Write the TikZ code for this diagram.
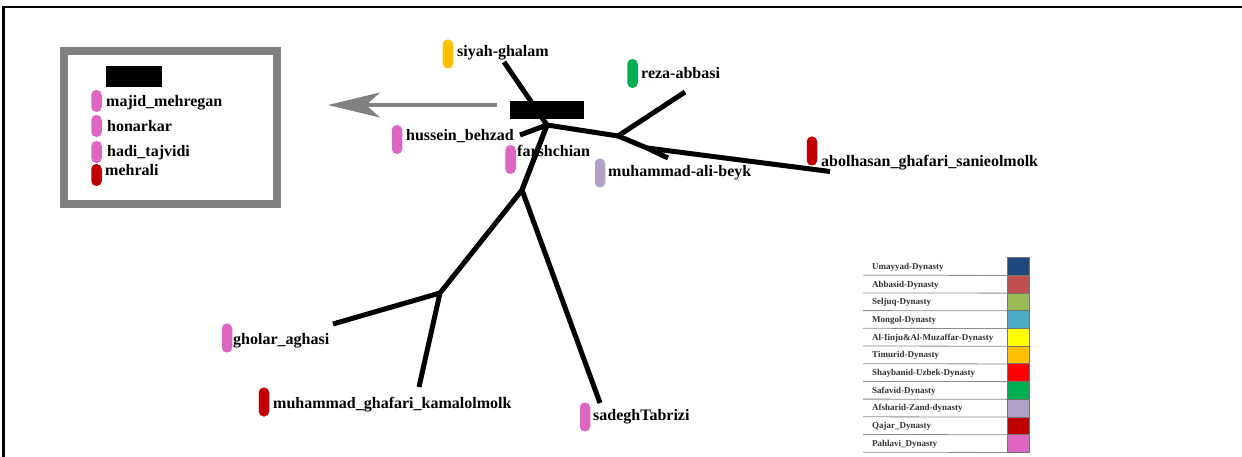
\documentclass[tikz,border=0pt]{standalone}
\usepackage{fontspec}
\setmainfont{Liberation Serif}
\usetikzlibrary{arrows.meta}
% dynasty colours
\definecolor{umayyad}{RGB}{31,73,125}
\definecolor{abbasid}{RGB}{192,80,77}
\definecolor{seljuq}{RGB}{155,187,89}
\definecolor{mongol}{RGB}{75,172,198}
\definecolor{injju}{RGB}{255,255,0}
\definecolor{timurid}{RGB}{255,192,0}
\definecolor{shaybanid}{RGB}{255,0,0}
\definecolor{safavid}{RGB}{0,176,80}
\definecolor{afsharid}{RGB}{177,160,199}
\definecolor{qajar}{RGB}{192,0,0}
\definecolor{pahlavi}{RGB}{222,102,194}
\definecolor{framegray}{RGB}{128,128,128}
\tikzset{
  lbl/.style={anchor=base west, inner sep=0pt, font=\fontsize{16}{16}\selectfont\bfseries},
  pill/.style={rounded corners=5pt, minimum width=10.5pt, minimum height=29pt, inner sep=0pt},
  smallpill/.style={pill, minimum height=22pt},
  branch/.style={line width=5pt},
  keytext/.style={anchor=base west, inner sep=0pt, font=\fontsize{9}{9}\selectfont\bfseries, text=black!80},
  swatch/.style={draw=black!55, line width=0.5pt, minimum width=22pt, minimum height=17.7pt, inner sep=0pt},
}
\begin{document}
\begin{tikzpicture}[x=1pt, y=-1pt]
\useasboundingbox (0,0) rectangle (1242,457);

% outer frame (top and left sides)
\draw[line width=2.5pt] (3.5,457) -- (3.5,7) -- (1242,7);

% selection box
\node[draw=framegray, line width=8pt, minimum width=213pt, minimum height=153pt, inner sep=0pt] (selbox) at (170.5,127.5) {};
\node[fill=black, minimum width=56pt, minimum height=21pt, inner sep=0pt] (selhead) at (134,76.5) {};
\node[smallpill, fill=pahlavi] (p-majid) at (96.5,101) {};
\node[lbl] (t-majid) at (106,107) {majid\_mehregan};
\node[smallpill, fill=pahlavi] (p-honar) at (96.5,126) {};
\node[lbl] (t-honar) at (107,132) {honarkar};
\node[smallpill, fill=pahlavi] (p-hadi) at (96.5,152) {};
\node[lbl] (t-hadi) at (107,157) {hadi\_tajvidi};
\node[smallpill, fill=qajar] (p-mehrali) at (96.5,175) {};
\node[lbl] (t-mehrali) at (105,176) {mehrali};

% tree nodes
\coordinate (root) at (547,125);
\coordinate (nA) at (618,136);
\coordinate (nB) at (647,148);
\coordinate (nC) at (522,190);
\coordinate (nD) at (440,293);
\coordinate (e-siyah) at (504,62);
\coordinate (e-husein) at (520,135);
\coordinate (e-reza) at (685,92);
\coordinate (e-mab) at (668,158);
\coordinate (e-abol) at (830,171.5);
\coordinate (e-sadegh) at (600,403);
\coordinate (e-gholar) at (333,324);
\coordinate (e-mgk) at (419,387);
\coordinate (arrowstart) at (497,105);
\coordinate (arrowend) at (328,105);

% branches
\draw[branch] (e-siyah) -- (root);
\draw[branch] (e-husein) -- (root);
\draw[branch] (root) -- (nA) -- (e-reza);
\draw[branch] (nA) -- (nB) -- (e-mab);
\draw[branch] (nB) -- (e-abol);
\draw[branch] (root) -- (nC) -- (nD) -- (e-gholar);
\draw[branch] (nD) -- (e-mgk);
\draw[branch] (nC) -- (e-sadegh);

% collapsed group marker and pointer to the selection box
\node[fill=black, minimum width=74pt, minimum height=18pt, inner sep=0pt] (group) at (547,110) {};
\draw[framegray, line width=4pt, -{Stealth[length=52pt, width=25pt, inset=14pt]}] (arrowstart) -- (arrowend);

% leaf labels
\node[pill, fill=timurid] (p-siyah) at (448,54) {};
\node[lbl] (t-siyah) at (457,57) {siyah-ghalam};
\node[pill, fill=safavid] (p-reza) at (632.5,73.5) {};
\node[lbl] (t-reza) at (641,79) {reza-abbasi};
\node[pill, fill=pahlavi] (p-husein) at (397,139.5) {};
\node[lbl] (t-husein) at (406,141) {hussein\_behzad};
\node[pill, fill=pahlavi] (p-farsh) at (510.5,159.5) {};
\node[lbl] (t-farsh) at (517,156.5) {farshchian};
\draw[branch] (root) -- (nC);
\node[pill, fill=afsharid] (p-mab) at (600,173) {};
\node[lbl] (t-mab) at (608,176.5) {muhammad-ali-beyk};
\node[pill, fill=qajar] (p-abol) at (812,151) {};
\node[lbl] (t-abol) at (821,167) {abolhasan\_ghafari\_sanieolmolk};
\node[pill, fill=pahlavi] (p-gholar) at (227,338) {};
\node[lbl] (t-gholar) at (233,344) {gholar\_aghasi};
\node[pill, fill=qajar] (p-mgk) at (264,402) {};
\node[lbl] (t-mgk) at (273,408) {muhammad\_ghafari\_kamalolmolk};
\node[pill, fill=pahlavi] (p-sadegh) at (585,417) {};
\node[lbl] (t-sadegh) at (593,420.5) {sadeghTabrizi};

% dynasty key
\foreach \name/\col [count=\i from 0] in {
  Umayyad-Dynasty/umayyad, Abbasid-Dynasty/abbasid, Seljuq-Dynasty/seljuq,
  Mongol-Dynasty/mongol, Al-Iinju\&Al-Muzaffar-Dynasty/injju,
  Timurid-Dynasty/timurid, Shaybanid-Uzbek-Dynasty/shaybanid,
  Safavid-Dynasty/safavid, Afsharid-Zand-dynasty/afsharid,
  Qajar\_Dynasty/qajar, Pahlavi\_Dynasty/pahlavi} {
  \pgfmathsetmacro{\rowc}{257.5+17.7*\i+8.85}
  \node[swatch, fill=\col] (sw\i) at (1018,\rowc) {};
  \node[keytext] (key\i) at (872,\rowc+3) {\name};
  \draw[black!45, line width=0.8pt] (863,\rowc+8.85) -- (sw\i.south west);
}
\end{tikzpicture}
\end{document}
